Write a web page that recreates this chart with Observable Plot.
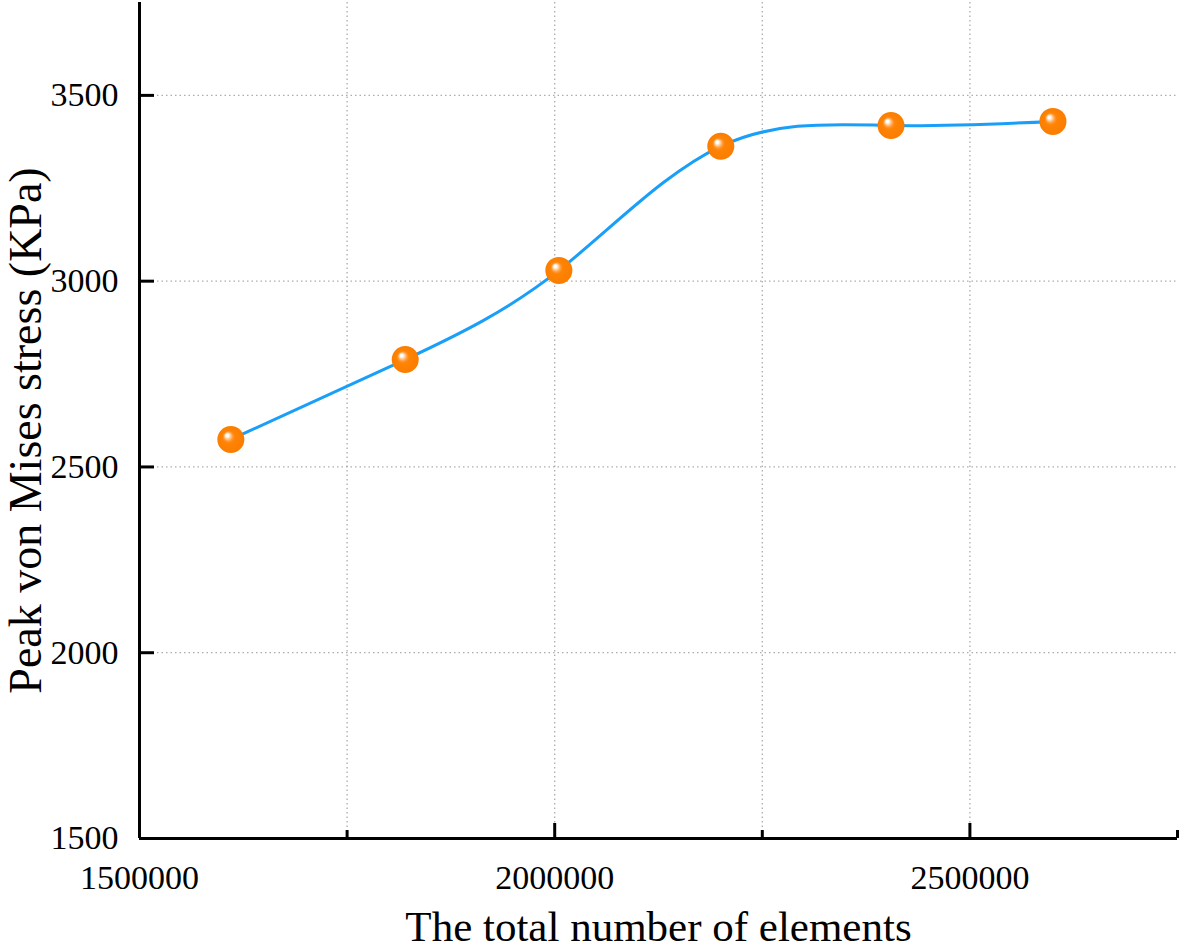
<!DOCTYPE html>
<html>
<head>
<meta charset="utf-8">
<script src="https://cdn.jsdelivr.net/npm/d3@7"></script>
<script src="https://cdn.jsdelivr.net/npm/@observablehq/plot@0.6"></script>
<style>
  html, body { margin: 0; padding: 0; background: #fff; }
  #chart { width: 1180px; height: 950px; }
</style>
</head>
<body>
<div id="chart"></div>
<script>
const elements = [1610000, 1820000, 2005000, 2200000, 2405000, 2600000];
const stress = [2574, 2789, 3029, 3363, 3419, 3430];
const xMajorTicks = [1500000, 2000000, 2500000];
const xMinorTicks = [1750000, 2250000, 2750000];
const xGridTicks = [1750000, 2000000, 2250000, 2500000];
const yTicks = [1500, 2000, 2500, 3000, 3500];
const yGridTicks = [2000, 2500, 3000, 3500];
const xTitle = "The total number of elements";
const yTitle = "Peak von Mises stress (KPa)";

const data = elements.map((x, i) => ({x, y: stress[i]}));
const font = "'Liberation Serif', 'Times New Roman', serif";
const x0 = 1500000, y0 = 1500;

const svg = Plot.plot({
  width: 1180,
  height: 950,
  marginLeft: 139,
  marginRight: 3,
  marginTop: 2,
  marginBottom: 112,
  style: {fontFamily: font, background: "#fff", overflow: "visible"},
  x: {domain: [1500000, 2750000]},
  y: {domain: [1500, 3750]},
  marks: [
    Plot.gridX(xGridTicks, {stroke: "#999", strokeOpacity: 0.8, strokeWidth: 1.3, strokeDasharray: "1.5,3"}),
    Plot.gridY(yGridTicks, {stroke: "#999", strokeOpacity: 0.8, strokeWidth: 1.3, strokeDasharray: "1.5,3"}),
    Plot.line(data, {x: "x", y: "y", curve: "natural", stroke: "#1a9ff8", strokeWidth: 3}),
    Plot.dot(data, {x: "x", y: "y", r: 13.5, fill: "url(#ball)", stroke: "none"}),
    Plot.ruleY([y0], {stroke: "#000", strokeWidth: 3}),
    Plot.ruleX([x0], {stroke: "#000", strokeWidth: 3}),
    Plot.ruleX(xMajorTicks, {x: d => d, y1: y0, y2: y0, insetBottom: 15, stroke: "#000", strokeWidth: 3}),
    Plot.ruleX(xMinorTicks, {x: d => d, y1: y0, y2: y0, insetBottom: 8, stroke: "#000", strokeWidth: 3}),
    Plot.ruleY(yTicks, {y: d => d, x1: x0, x2: x0, insetRight: -15, stroke: "#000", strokeWidth: 3}),
    Plot.axisX(xMajorTicks, {tickSize: 0, tickPadding: 26, fontSize: 34, fill: "#000", tickFormat: d => String(d), label: null}),
    Plot.axisY(yTicks, {tickSize: 0, tickPadding: 21, fontSize: 34, fill: "#000", tickFormat: d => String(d), label: null}),
    Plot.text([xTitle], {frameAnchor: "bottom", dy: 89, fontSize: 43, fill: "#000", text: d => d, lineAnchor: "middle", textAnchor: "middle"}),
    Plot.text([yTitle], {frameAnchor: "left", dx: -113, dy: 10, rotate: -90, fontSize: 46, fill: "#000", text: d => d, lineAnchor: "middle", textAnchor: "middle"})
  ]
});

const sel = d3.select(svg);
const defs = sel.insert("defs", ":first-child");
const g = defs.append("radialGradient").attr("id", "ball")
  .attr("cx", "50%").attr("cy", "50%").attr("r", "50%")
  .attr("fx", "35%").attr("fy", "33%");
[["0%", "#ffffff"], ["10%", "#ffffff"], ["20%", "#ffd3a8"], ["34%", "#ff9a35"], ["46%", "#ff8305"], ["100%", "#fa7d00"]]
  .forEach(([o, c]) => g.append("stop").attr("offset", o).attr("stop-color", c));

document.getElementById("chart").appendChild(svg);
</script>
</body>
</html>
